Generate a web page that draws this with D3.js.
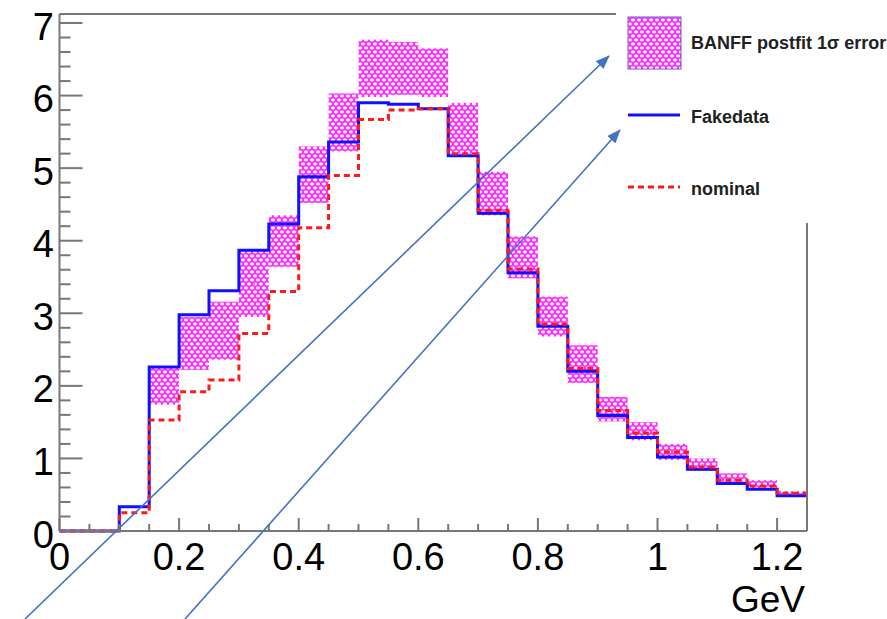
<!DOCTYPE html>
<html>
<head>
<meta charset="utf-8">
<script src="https://cdn.jsdelivr.net/npm/d3@7"></script>
<style>
  body { margin: 0; background: #fff; }
  svg { display: block; font-family: "Liberation Sans", Arial, sans-serif; }
</style>
</head>
<body>
<svg id="chart" width="887" height="619"></svg>
<script>
// bin lower edges (GeV), every bin 0.05 wide
var binLow = [0, 0.05, 0.1, 0.15, 0.2, 0.25, 0.3, 0.35, 0.4, 0.45, 0.5, 0.55, 0.6,
              0.65, 0.7, 0.75, 0.8, 0.85, 0.9, 0.95, 1.0, 1.05, 1.1, 1.15, 1.2];
var binW = 0.05;

var fakedata = [0, 0, 0.335, 2.26, 2.98, 3.31, 3.87, 4.23, 4.88, 5.36, 5.90, 5.88, 5.82,
                5.17, 4.38, 3.56, 2.82, 2.20, 1.59, 1.29, 1.02, 0.85, 0.656, 0.575, 0.487];

var nominal = [0, 0, 0.25, 1.53, 1.92, 2.08, 2.72, 3.30, 4.18, 4.90, 5.67, 5.80, 5.82,
               5.20, 4.42, 3.61, 2.85, 2.24, 1.66, 1.35, 1.09, 0.88, 0.70, 0.62, 0.52];

// BANFF postfit 1 sigma band (low / high)
var bandLo = [null, null, null, 1.74, 2.22, 2.36, 2.95, 3.64, 4.52, 5.23, 5.98, 6.01, 5.98,
              5.20, 4.35, 3.48, 2.68, 2.04, 1.51, 1.25, 0.98, 0.83, 0.68, 0.59, 0.50];
var bandHi = [null, null, null, 2.27, 2.95, 3.16, 3.87, 4.35, 5.30, 6.03, 6.77, 6.74, 6.65,
              5.90, 4.95, 4.06, 3.23, 2.56, 1.85, 1.50, 1.20, 1.00, 0.795, 0.70, 0.55];

var xTicksMajor = [0, 0.2, 0.4, 0.6, 0.8, 1, 1.2];
var xTickLabels = ["0", "0.2", "0.4", "0.6", "0.8", "1", "1.2"];
var yTicksMajor = [0, 1, 2, 3, 4, 5, 6, 7];
var yMax = 7.125;

var legendItems = ["BANFF postfit 1\u03c3 error", "Fakedata", "nominal"];

var svg = d3.select("#chart");

var x = d3.scaleLinear().domain([0, 1.25]).range([59.5, 807]);
var y = d3.scaleLinear().domain([0, 7]).range([531, 23]);

// hatch pattern
var defs = svg.append("defs");
var pat = defs.append("pattern")
    .attr("id", "hatch")
    .attr("patternUnits", "userSpaceOnUse")
    .attr("width", 6).attr("height", 8);
pat.append("rect").attr("width", 6).attr("height", 8).attr("fill", "#ff2bff");
[[0,0],[6,0],[0,8],[6,8],[3,4]].forEach(function(p){
  pat.append("ellipse").attr("cx", p[0]).attr("cy", p[1])
    .attr("rx", 2.1).attr("ry", 1.4).attr("fill", "#fff");
});

defs.append("marker")
    .attr("id", "arrow")
    .attr("markerUnits", "userSpaceOnUse")
    .attr("viewBox", "0 -6 14 12")
    .attr("refX", 13).attr("refY", 0)
    .attr("markerWidth", 14).attr("markerHeight", 12)
    .attr("orient", "auto")
  .append("path")
    .attr("d", "M0,-5.5L14,0L0,5.5Z")
    .attr("fill", "#4472c4");

// error band
var bins = binLow.map(function(b, i){
  return {x0: b, x1: b + binW, f: fakedata[i], n: nominal[i], lo: bandLo[i], hi: bandHi[i]};
});

svg.append("g").selectAll("rect")
  .data(bins.filter(function(d){ return d.lo != null; }))
  .enter().append("rect")
    .attr("x", function(d){ return x(d.x0); })
    .attr("width", function(d){ return x(d.x1) - x(d.x0); })
    .attr("y", function(d){ return y(d.hi); })
    .attr("height", function(d){ return y(d.lo) - y(d.hi); })
    .attr("fill", "url(#hatch)");

// central value markers
svg.append("g").selectAll("rect")
  .data(bins.filter(function(d){ return d.lo != null; }))
  .enter().append("rect")
    .attr("x", function(d){ return x((d.x0 + d.x1) / 2) - 1; })
    .attr("y", function(d){ return y((d.lo + d.hi) / 2) - 1; })
    .attr("width", 2).attr("height", 2)
    .attr("fill", "#888");

// step outline of a histogram
function stepPath(vals){
  var pts = [];
  binLow.forEach(function(b, i){
    pts.push([x(b), y(vals[i])]);
    pts.push([x(b + binW), y(vals[i])]);
  });
  return d3.line()(pts);
}

svg.append("path")
    .attr("d", stepPath(fakedata))
    .attr("fill", "none")
    .attr("stroke", "#1010ff")
    .attr("stroke-width", 3);

svg.append("path")
    .attr("d", stepPath(nominal))
    .attr("fill", "none")
    .attr("stroke", "#ff1a1a")
    .attr("stroke-width", 3)
    .attr("stroke-dasharray", "6,4");

// frame and axes
var frameCol = "#777";
var axes = svg.append("g").attr("stroke", frameCol).attr("stroke-width", 2).attr("fill", "none");
axes.append("line").attr("x1", x(0)).attr("x2", x(1.25)).attr("y1", y(0)).attr("y2", y(0));
axes.append("line").attr("x1", x(0)).attr("x2", x(0)).attr("y1", y(0)).attr("y2", y(yMax));
axes.append("line").attr("x1", x(0)).attr("x2", 616).attr("y1", y(yMax)).attr("y2", y(yMax));
axes.append("line").attr("x1", x(1.25)).attr("x2", x(1.25)).attr("y1", y(0)).attr("y2", 223);

// x ticks
var xMinor = d3.range(0, 26).map(function(i){ return i * 0.05; });
axes.selectAll(".xt").data(xMinor).enter().append("line")
    .attr("x1", function(d){ return x(d); })
    .attr("x2", function(d){ return x(d); })
    .attr("y1", y(0))
    .attr("y2", function(d, i){ return y(0) - (i % 4 === 0 ? 13 : 7); });

// y ticks
var yMinor = d3.range(0, 36).map(function(i){ return i * 0.2; });
axes.selectAll(".yt").data(yMinor).enter().append("line")
    .attr("y1", function(d){ return y(d); })
    .attr("y2", function(d){ return y(d); })
    .attr("x1", x(0))
    .attr("x2", function(d, i){ return x(0) + (i % 5 === 0 ? 23 : 11); });

svg.append("g").selectAll("text").data(xTicksMajor).enter().append("text")
    .attr("x", function(d){ return x(d); })
    .attr("y", 570)
    .attr("text-anchor", "middle")
    .attr("font-size", 38)
    .attr("fill", "#000")
    .text(function(d, i){ return xTickLabels[i]; });

svg.append("g").selectAll("text").data(yTicksMajor).enter().append("text")
    .attr("x", 54)
    .attr("y", function(d){ return y(d) + 16.5; })
    .attr("text-anchor", "end")
    .attr("font-size", 38)
    .attr("fill", "#000")
    .text(function(d){ return d; });

svg.append("text")
    .attr("x", 805).attr("y", 612)
    .attr("text-anchor", "end")
    .attr("font-size", 37)
    .attr("fill", "#000")
    .text("GeV");

// legend
var leg = svg.append("g");
leg.append("rect")
    .attr("x", 628).attr("y", 17).attr("width", 53).attr("height", 52)
    .attr("fill", "url(#hatch)")
    .attr("stroke", "#6a5acd").attr("stroke-width", 1);
leg.append("line")
    .attr("x1", 628).attr("x2", 680).attr("y1", 115).attr("y2", 115)
    .attr("stroke", "#1010ff").attr("stroke-width", 3);
leg.append("line")
    .attr("x1", 628).attr("x2", 680).attr("y1", 187).attr("y2", 187)
    .attr("stroke", "#ff1a1a").attr("stroke-width", 3)
    .attr("stroke-dasharray", "6,4");
leg.selectAll("text").data(legendItems).enter().append("text")
    .attr("x", 691)
    .attr("y", function(d, i){ return [49.3, 123.3, 195][i]; })
    .attr("font-size", 18)
    .attr("font-weight", "bold")
    .attr("fill", "#222")
    .text(function(d){ return d; });

// annotation arrows
var arrows = [[25, 619, 609, 56], [185, 619, 620, 130]];
svg.append("g").selectAll("line").data(arrows).enter().append("line")
    .attr("x1", function(d){ return d[0]; })
    .attr("y1", function(d){ return d[1]; })
    .attr("x2", function(d){ return d[2]; })
    .attr("y2", function(d){ return d[3]; })
    .attr("stroke", "#4472c4")
    .attr("stroke-width", 1.6)
    .attr("marker-end", "url(#arrow)");
</script>
</body>
</html>
